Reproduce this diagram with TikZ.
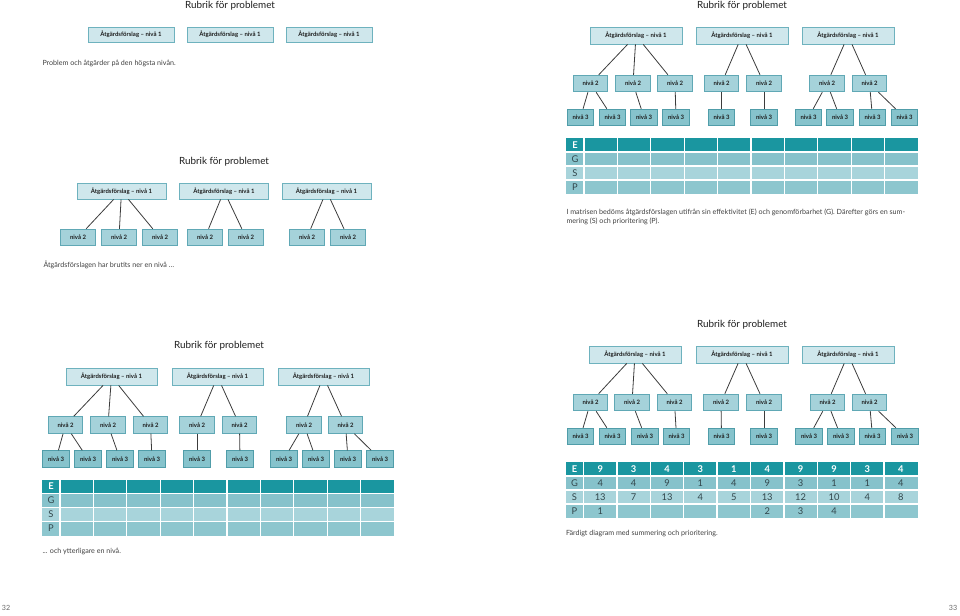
\documentclass[tikz,border=0pt]{standalone}
\usepackage{fontspec}
\setmainfont{Lato}

\definecolor{fillone}{RGB}{207,231,236}
\definecolor{edgeone}{RGB}{110,178,190}
\definecolor{filltwo}{RGB}{165,210,218}
\definecolor{edgetwo}{RGB}{96,168,181}
\definecolor{fillthree}{RGB}{134,195,204}
\definecolor{edgethree}{RGB}{80,157,169}
\definecolor{rowE}{RGB}{26,150,160}
\definecolor{rowG}{RGB}{134,194,203}
\definecolor{rowS}{RGB}{168,212,219}
\definecolor{rowP}{RGB}{141,198,206}
\definecolor{linkgray}{RGB}{60,60,60}
\definecolor{inktext}{RGB}{30,30,30}
\definecolor{celltext}{RGB}{50,70,75}

\newcommand{\lvlfont}{\fontsize{4.5pt}{5pt}\selectfont\bfseries}
\newcommand{\rubricfont}{\fontsize{7.4pt}{9pt}\selectfont}
\newcommand{\capfont}{\fontsize{5.35pt}{6.75pt}\selectfont}
\newcommand{\cellfont}{\fontsize{7pt}{8pt}\selectfont}

\tikzset{every picture/.style={line width=0.75pt}}
\tikzset{
  lvlbox/.style={draw, line width=0.6pt, inner sep=0pt, font=\lvlfont, text=inktext},
  lvlone/.style={lvlbox, draw=edgeone, fill=fillone, minimum width=69pt, minimum height=12.75pt},
  lvltwo/.style={lvlbox, draw=edgetwo, fill=filltwo, minimum width=26pt, minimum height=12.5pt},
  lvlthree/.style={lvlbox, draw=edgethree, fill=fillthree, minimum width=20pt, minimum height=12.5pt},
  link/.style={draw=linkgray, line width=0.6pt},
  rubric/.style={inner sep=0pt, font=\rubricfont, text=inktext},
  caption/.style={anchor=west, inner sep=0pt, font=\capfont, text=inktext!85},
  cellhead/.style={inner sep=0pt, font=\cellfont\bfseries, text=white},
  cell/.style={inner sep=0pt, font=\cellfont, text=celltext},
  gridline/.style={draw=white, line width=1pt},
  pagenum/.style={inner sep=0pt, font=\capfont, text=black!60},
}

% E/G/S/P matrix: #1 name prefix, (#2,#3) top left corner
\newcommand{\esgpgrid}[3]{%
  \begin{scope}[shift={(#2,#3)}]
    \fill[rowE] (0,0) rectangle (352,14);
    \fill[rowG] (0,14) rectangle (352,28);
    \fill[rowS] (0,28) rectangle (352,42);
    \fill[rowP] (0,42) rectangle (352,56);
    \foreach \k in {1,2,3} \draw[gridline] (0,14*\k) -- (352,14*\k);
    \foreach \k in {0,...,9} \draw[gridline] ({18+33.4*\k},0) -- ({18+33.4*\k},56);
    \node[cellhead] (#1E) at (9,7) {E};
    \node[cell] (#1G) at (9,21) {G};
    \node[cell] (#1S) at (9,35) {S};
    \node[cell] (#1P) at (9,49) {P};
  \end{scope}}

\begin{document}
\begin{tikzpicture}[x=0.75pt,y=0.75pt,yscale=-1,xscale=1]
\useasboundingbox (0,0) rectangle (960,615);

%Panel 1: top level only
\node[rubric] (atitle) at (230,6) {Rubrik för problemet};
\node[lvlone, minimum width=64.5pt, minimum height=11.25pt] (a1a) at (131,34.5) {Åtgärdsförslag – nivå 1};
\node[lvlone, minimum width=64.5pt, minimum height=11.25pt] (a1b) at (230,34.5) {Åtgärdsförslag – nivå 1};
\node[lvlone, minimum width=64.5pt, minimum height=11.25pt] (a1c) at (329,34.5) {Åtgärdsförslag – nivå 1};
\node[caption] (acap) at (42,63) {Problem och åtgärder på den högsta nivån.};

%Panel 2: two levels
\node[rubric] (btitle) at (224,162) {Rubrik för problemet};
\node[lvlone, minimum width=66.75pt, minimum height=12pt] (b1a) at (121.5,191) {Åtgärdsförslag – nivå 1};
\node[lvlone, minimum width=66.75pt, minimum height=12pt] (b1b) at (224,191) {Åtgärdsförslag – nivå 1};
\node[lvlone, minimum width=66.75pt, minimum height=12pt] (b1c) at (326.5,191) {Åtgärdsförslag – nivå 1};
\foreach \n/\x in {a/78,b/119,c/160,d/205,e/246,f/307,g/348}
  \node[lvltwo] (b2\n) at (\x,237.5) {nivå 2};
\node[caption] (bcap) at (43,265) {Åtgärdsförslagen har brutits ner en nivå …};

%Panel 3: three levels and empty matrix
\node[rubric] (ctitle) at (219,346) {Rubrik för problemet};
\node[lvlone, minimum width=68.25pt] (c1a) at (111.5,376.5) {Åtgärdsförslag – nivå 1};
\node[lvlone, minimum width=68.25pt] (c1b) at (217.5,376.5) {Åtgärdsförslag – nivå 1};
\node[lvlone, minimum width=68.25pt] (c1c) at (323.5,376.5) {Åtgärdsförslag – nivå 1};
\foreach \n/\x in {a/65.5,b/108,c/150.5,d/197,e/239.5,f/304,g/345.5}
  \node[lvltwo] (c2\n) at (\x,425) {nivå 2};
\foreach \n/\x in {a/56,b/88,c/120,d/152,e/197,f/240,g/284,h/316,i/348,j/380}
  \node[lvlthree] (c3\n) at (\x,459) {nivå 3};
\esgpgrid{cgrid}{42}{479.5}
\node[caption] (ccap) at (42,551) {... och ytterligare en nivå.};

%Panel 4: three levels and empty matrix
\node[rubric] (dtitle) at (742,6) {Rubrik för problemet};
\node[lvlone] (d1a) at (636,35.5) {Åtgärdsförslag – nivå 1};
\node[lvlone] (d1b) at (742,35.5) {Åtgärdsförslag – nivå 1};
\node[lvlone] (d1c) at (848,35.5) {Åtgärdsförslag – nivå 1};
\foreach \n/\x in {a/590.5,b/633,c/675,d/721.5,e/764,f/827,g/869.5}
  \node[lvltwo] (d2\n) at (\x,83.5) {nivå 2};
\foreach \n/\x in {a/580.5,b/612.5,c/644,d/676,e/721.5,f/764,g/808.5,h/840,i/872.5,j/904.5}
  \node[lvlthree] (d3\n) at (\x,117.5) {nivå 3};
\esgpgrid{dgrid}{566}{138}
\node[caption, anchor=north west, align=left] (dcap) at (566,208.5) {I matrisen bedöms åtgärdsförslagen utifrån sin effektivitet (E) och genomförbarhet (G). Därefter görs en sum-\\mering (S) och prioritering (P).};

%Panel 5: finished matrix
\node[rubric] (etitle) at (742,325) {Rubrik för problemet};
\node[lvlone] (e1a) at (635,354.5) {Åtgärdsförslag – nivå 1};
\node[lvlone] (e1b) at (742,354.5) {Åtgärdsförslag – nivå 1};
\node[lvlone] (e1c) at (848,354.5) {Åtgärdsförslag – nivå 1};
\foreach \n/\x in {a/590.5,b/632,c/674.5,d/721,e/764,f/827.5,g/869.5}
  \node[lvltwo] (e2\n) at (\x,402.5) {nivå 2};
\foreach \n/\x in {a/580.5,b/612.5,c/645,d/676.5,e/721.5,f/764,g/809,h/841,i/872.5,j/905}
  \node[lvlthree] (e3\n) at (\x,436.5) {nivå 3};
\esgpgrid{egrid}{565.5}{462}
\foreach \v [count=\i] in {9,3,4,3,1,4,9,9,3,4}
  \node[cellhead] (eE\i) at ({583.5+33.4*(\i-0.5)},469) {\v};
\foreach \v [count=\i] in {4,4,9,1,4,9,3,1,1,4}
  \node[cell] (eG\i) at ({583.5+33.4*(\i-0.5)},483) {\v};
\foreach \v [count=\i] in {13,7,13,4,5,13,12,10,4,8}
  \node[cell] (eS\i) at ({583.5+33.4*(\i-0.5)},497) {\v};
\foreach \v/\i in {1/1,2/6,3/7,4/8}
  \node[cell] (eP\i) at ({583.5+33.4*(\i-0.5)},511) {\v};
\node[caption] (ecap) at (565.5,534) {Färdigt diagram med summering och prioritering.};

%Connectors
\foreach \p in {b,c,d,e}
  \foreach \s/\t in {1a/2a,1a/2b,1a/2c,1b/2d,1b/2e,1c/2f,1c/2g}
    \draw[link] (\p\s) -- (\p\t);
\foreach \p in {c,d,e}
  \foreach \s/\t in {2a/3a,2a/3b,2b/3c,2c/3d,2d/3e,2e/3f,2f/3g,2f/3h,2g/3i,2g/3j}
    \draw[link] (\p\s) -- (\p\t);

% Page numbers
\node[pagenum] (lpage) at (6,608) {32};
\node[pagenum] (rpage) at (953,608) {33};

\end{tikzpicture}
\end{document}
